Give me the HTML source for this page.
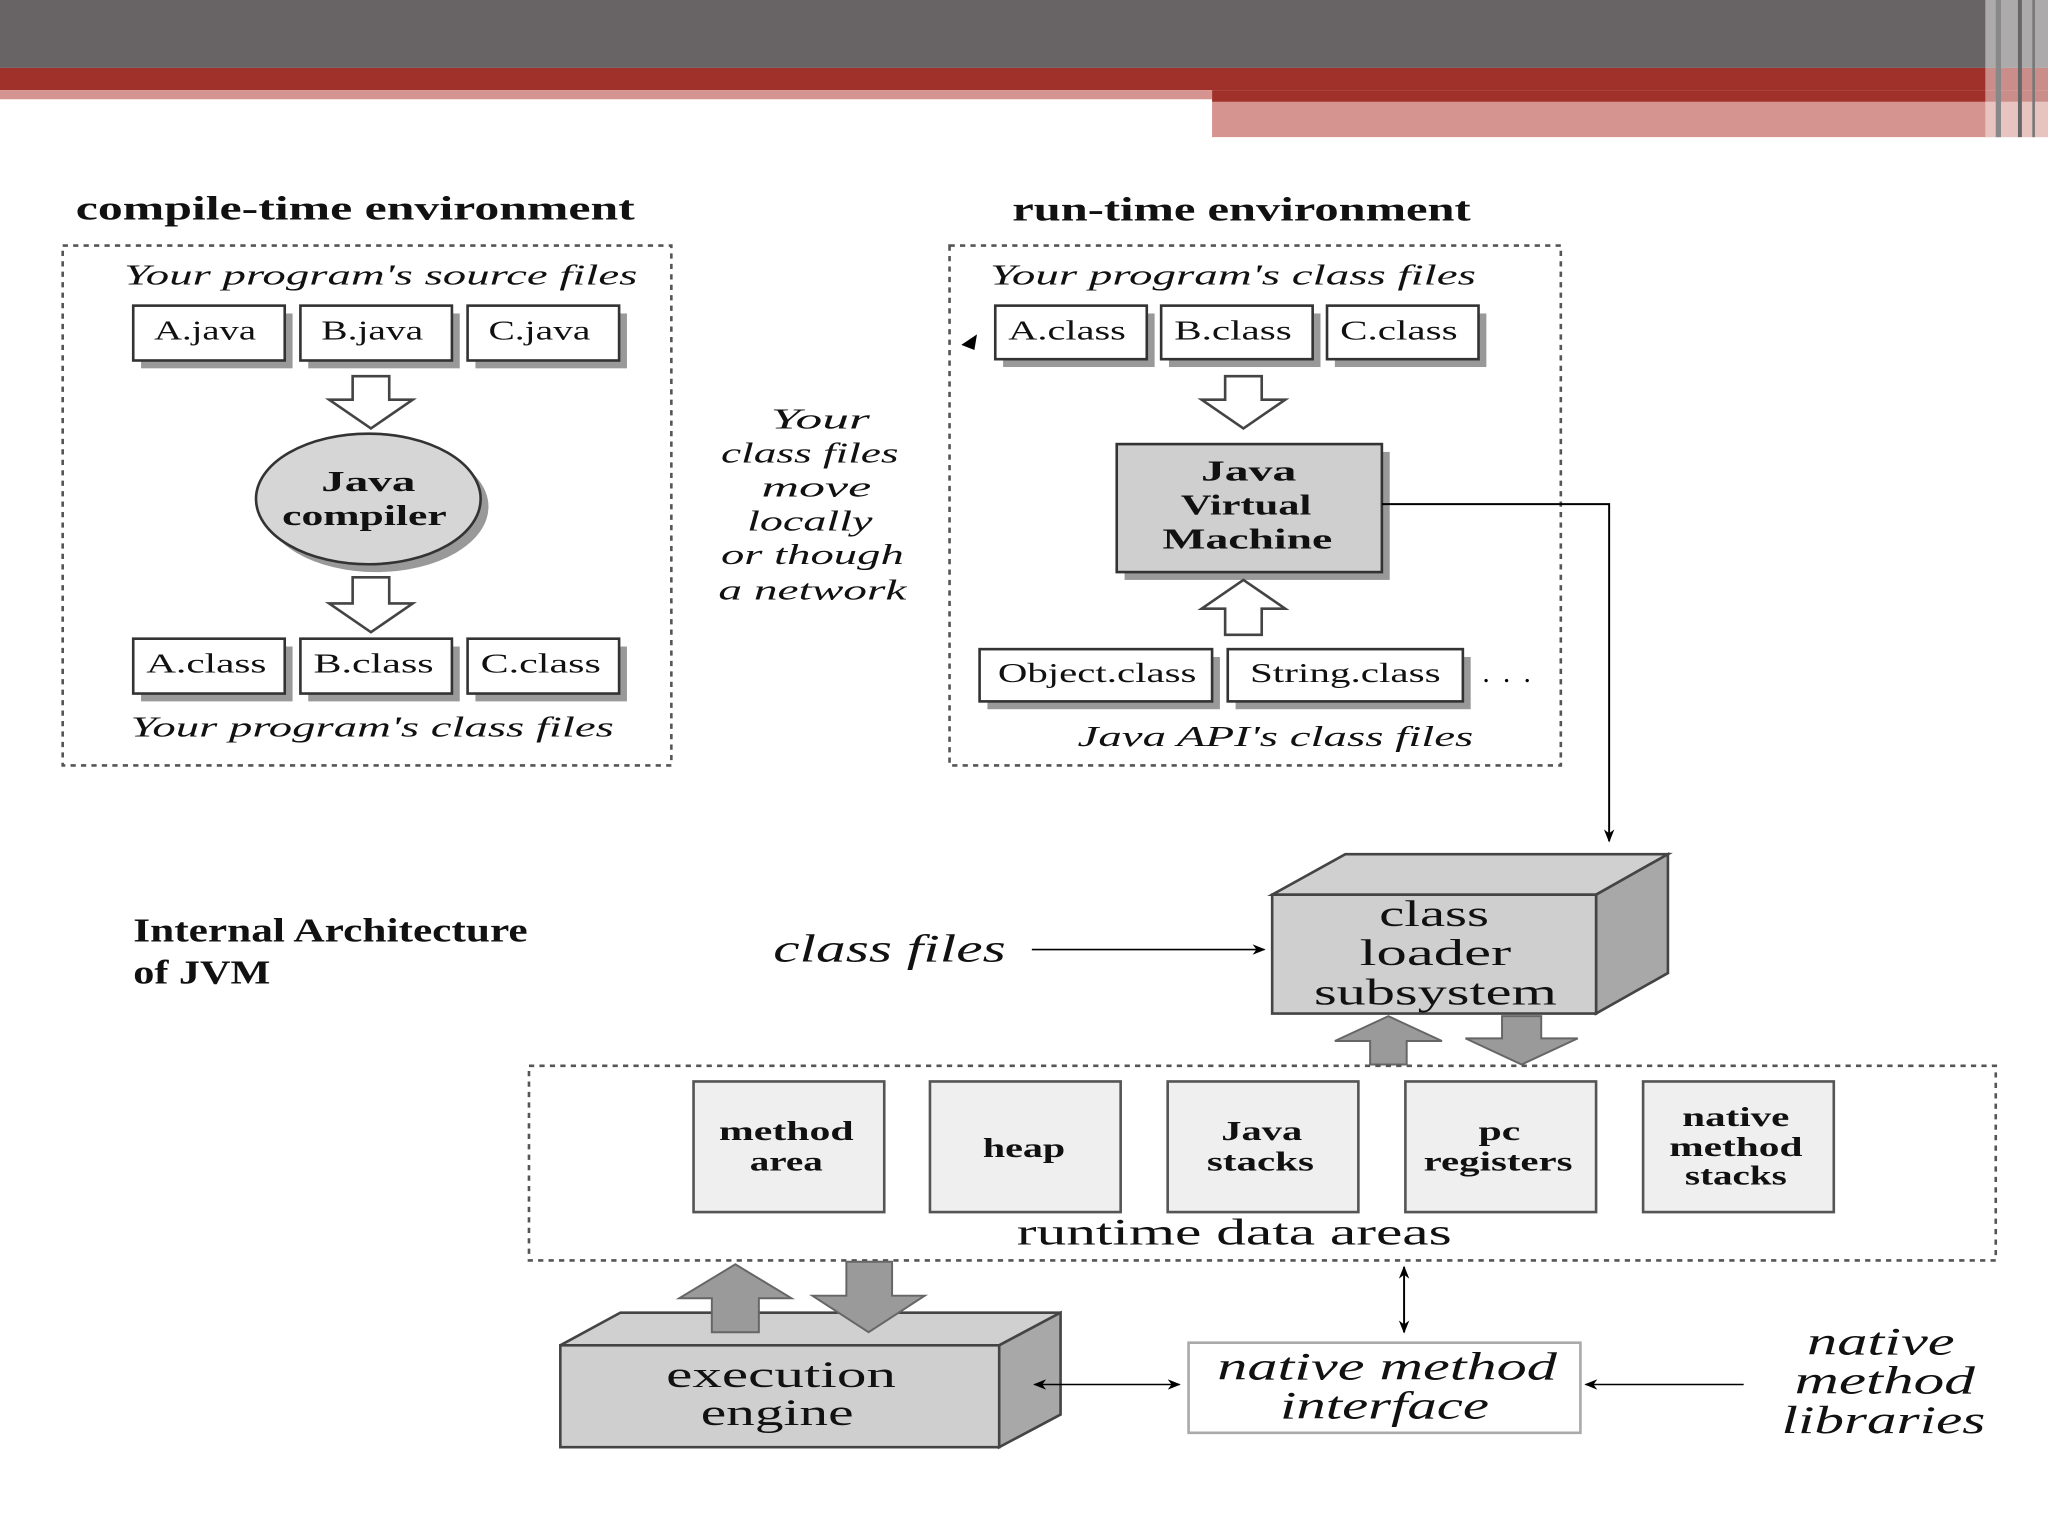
<!DOCTYPE html>
<html><head><meta charset="utf-8"><style>html,body{margin:0;padding:0;background:#fff}svg{display:block}</style></head>
<body>
<svg width="2048" height="1536" viewBox="0 0 1568 1176" xmlns="http://www.w3.org/2000/svg" font-family="'Liberation Serif',serif">
<defs>
<marker id="ah" markerWidth="10" markerHeight="8" refX="9" refY="4" orient="auto" markerUnits="userSpaceOnUse"><path d="M0,0 L10,4 L0,8 L3,4z" fill="#000"/></marker>
<marker id="ahs" markerWidth="10" markerHeight="8" refX="1" refY="4" orient="auto" markerUnits="userSpaceOnUse"><path d="M10,0 L0,4 L10,8 L7,4z" fill="#000"/></marker>
</defs>
<rect x="0" y="0" width="1568" height="52" fill="#686465"/>
<rect x="0" y="52" width="1568" height="17" fill="#a0302a"/>
<rect x="0" y="69" width="928" height="7" fill="#d5948f"/>
<rect x="928" y="69" width="640" height="9" fill="#a0302a"/>
<rect x="928" y="78" width="640" height="27" fill="#d5948f"/>
<rect x="1520" y="0" width="48" height="105" fill="#fff" opacity="0.45"/>
<rect x="1528" y="0" width="4" height="105" fill="#888"/>
<rect x="1545" y="0" width="3" height="105" fill="#666"/>
<rect x="1556" y="0" width="2" height="105" fill="#777"/>

<g font-size="26" font-weight="bold" fill="#111" lengthAdjust="spacingAndGlyphs">
<text x="58" y="168" textLength="428" lengthAdjust="spacingAndGlyphs">compile-time environment</text>
<text x="775" y="169" textLength="351" lengthAdjust="spacingAndGlyphs">run-time environment</text>
</g>
<rect x="48" y="188" width="466" height="398" fill="none" stroke="#555" stroke-width="2" stroke-dasharray="4,4"/>
<rect x="727" y="188" width="468" height="398" fill="none" stroke="#555" stroke-width="2" stroke-dasharray="4,4"/>

<g font-size="22" font-style="italic" fill="#111">
<text x="95" y="218" textLength="393" lengthAdjust="spacingAndGlyphs">Your program's source files</text>
<text x="100" y="564" textLength="370" lengthAdjust="spacingAndGlyphs">Your program's class files</text>
<text x="758" y="218" textLength="372" lengthAdjust="spacingAndGlyphs">Your program's class files</text>
<text x="825" y="571" textLength="303" lengthAdjust="spacingAndGlyphs">Java API's class files</text>
</g>

<g fill="#999">
<rect x="108" y="240" width="116" height="42"/><rect x="236" y="240" width="116" height="42"/><rect x="364" y="240" width="116" height="42"/>
<rect x="108" y="495" width="116" height="42"/><rect x="236" y="495" width="116" height="42"/><rect x="364" y="495" width="116" height="42"/>
<rect x="768" y="240" width="116" height="41"/><rect x="895" y="240" width="116" height="41"/><rect x="1022" y="240" width="116" height="41"/>
<rect x="756" y="503" width="178" height="40"/><rect x="946" y="503" width="180" height="40"/>
<rect x="861" y="346" width="203" height="98"/>
</g>
<g fill="#fff" stroke="#333" stroke-width="2">
<rect x="102" y="234" width="116" height="42"/><rect x="230" y="234" width="116" height="42"/><rect x="358" y="234" width="116" height="42"/>
<rect x="102" y="489" width="116" height="42"/><rect x="230" y="489" width="116" height="42"/><rect x="358" y="489" width="116" height="42"/>
<rect x="762" y="234" width="116" height="41"/><rect x="889" y="234" width="116" height="41"/><rect x="1016" y="234" width="116" height="41"/>
<rect x="750" y="497" width="178" height="40"/><rect x="940" y="497" width="180" height="40"/>
</g>
<rect x="855" y="340" width="203" height="98" fill="#cfcfcf" stroke="#333" stroke-width="2"/>
<g font-size="21" fill="#111" text-anchor="middle">
<text x="157" y="260" textLength="78" lengthAdjust="spacingAndGlyphs">A.java</text><text x="285" y="260" textLength="78" lengthAdjust="spacingAndGlyphs">B.java</text><text x="413" y="260" textLength="78" lengthAdjust="spacingAndGlyphs">C.java</text>
<text x="158" y="515" textLength="92" lengthAdjust="spacingAndGlyphs">A.class</text><text x="286" y="515" textLength="92" lengthAdjust="spacingAndGlyphs">B.class</text><text x="414" y="515" textLength="92" lengthAdjust="spacingAndGlyphs">C.class</text>
<text x="817" y="260" textLength="90" lengthAdjust="spacingAndGlyphs">A.class</text><text x="944" y="260" textLength="90" lengthAdjust="spacingAndGlyphs">B.class</text><text x="1071" y="260" textLength="90" lengthAdjust="spacingAndGlyphs">C.class</text>
<text x="840" y="522" textLength="152" lengthAdjust="spacingAndGlyphs">Object.class</text><text x="1030" y="522" textLength="146" lengthAdjust="spacingAndGlyphs">String.class</text>
</g>
<text x="1135" y="522" font-size="22" textLength="37" lengthAdjust="spacing">. . .</text>

<g fill="#fff" stroke="#444" stroke-width="2">
<path d="M270,288 H298 V306 H316 L284,328 L252,306 H270Z"/>
<path d="M270,442 H298 V462 H316 L284,484 L252,462 H270Z"/>
<path d="M938,288 H966 V306 H984 L952,328 L920,306 H938Z"/>
<path d="M938,486 H966 V466 H984 L952,444 L920,466 H938Z"/>
</g>
<ellipse cx="288" cy="388" rx="86" ry="50" fill="#999"/>
<ellipse cx="282" cy="382" rx="86" ry="50" fill="#d6d6d6" stroke="#333" stroke-width="2"/>
<g font-size="22" font-weight="bold" text-anchor="middle" fill="#111">
<text x="282" y="376" textLength="72" lengthAdjust="spacingAndGlyphs">Java</text><text x="279" y="402" textLength="126" lengthAdjust="spacingAndGlyphs">compiler</text>
<text x="956" y="368" textLength="73" lengthAdjust="spacingAndGlyphs">Java</text><text x="954" y="394" textLength="100" lengthAdjust="spacingAndGlyphs">Virtual</text><text x="955" y="420" textLength="130" lengthAdjust="spacingAndGlyphs">Machine</text>
</g>

<g font-size="22" font-style="italic" text-anchor="middle" fill="#111">
<text x="628" y="328" textLength="76" lengthAdjust="spacingAndGlyphs">Your</text>
<text x="620" y="354" textLength="136" lengthAdjust="spacingAndGlyphs">class files</text>
<text x="625" y="380" textLength="84" lengthAdjust="spacingAndGlyphs">move</text>
<text x="620" y="406" textLength="96" lengthAdjust="spacingAndGlyphs">locally</text>
<text x="622" y="432" textLength="140" lengthAdjust="spacingAndGlyphs">or though</text>
<text x="622" y="459" textLength="144" lengthAdjust="spacingAndGlyphs">a network</text>
</g>
<path d="M748,256 L736,264 L746,268z" fill="#000"/>

<path d="M1058,386 H1232 V644" fill="none" stroke="#000" stroke-width="1.5" marker-end="url(#ah)"/>

<polygon points="974,685 1030,654 1277,654 1222,685" fill="#d0d0d0" stroke="#444" stroke-width="2"/>
<polygon points="1222,685 1277,654 1277,745 1222,776" fill="#a8a8a8" stroke="#444" stroke-width="2"/>
<rect x="974" y="685" width="248" height="91" fill="#cfcfcf" stroke="#444" stroke-width="2"/>
<g font-size="28" text-anchor="middle" fill="#111">
<text x="1098" y="709" textLength="84" lengthAdjust="spacingAndGlyphs">class</text><text x="1099" y="739" textLength="116" lengthAdjust="spacingAndGlyphs">loader</text><text x="1099" y="769" textLength="186" lengthAdjust="spacingAndGlyphs">subsystem</text>
</g>
<g fill="#9a9a9a" stroke="#666" stroke-width="1.5">
<path d="M1049,815 V797 H1022 L1063,778 L1104,797 H1077 V815Z"/>
<path d="M1150,778 V795 H1122 L1165,815 L1208,795 H1180 V778Z"/>
</g>
<text x="592" y="736" font-size="30" font-style="italic" fill="#111" textLength="178" lengthAdjust="spacingAndGlyphs">class files</text>
<line x1="790" y1="727" x2="968" y2="727" stroke="#000" stroke-width="1.2" marker-end="url(#ah)"/>

<g font-size="26" font-weight="bold" fill="#111">
<text x="102" y="721" textLength="302" lengthAdjust="spacingAndGlyphs">Internal Architecture</text><text x="102" y="753" textLength="105" lengthAdjust="spacingAndGlyphs">of JVM</text>
</g>

<rect x="405" y="816" width="1123" height="149" fill="none" stroke="#555" stroke-width="2" stroke-dasharray="4,4"/>
<g fill="#efefef" stroke="#555" stroke-width="2">
<rect x="531" y="828" width="146" height="100"/><rect x="712" y="828" width="146" height="100"/>
<rect x="894" y="828" width="146" height="100"/><rect x="1076" y="828" width="146" height="100"/>
<rect x="1258" y="828" width="146" height="100"/>
</g>
<g font-size="21" font-weight="bold" text-anchor="middle" fill="#111">
<text x="602" y="873" textLength="103" lengthAdjust="spacingAndGlyphs">method</text><text x="602" y="896" textLength="56" lengthAdjust="spacingAndGlyphs">area</text>
<text x="784" y="886" textLength="63" lengthAdjust="spacingAndGlyphs">heap</text>
<text x="966" y="873" textLength="62" lengthAdjust="spacingAndGlyphs">Java</text><text x="965" y="896" textLength="82" lengthAdjust="spacingAndGlyphs">stacks</text>
<text x="1148" y="873" textLength="32" lengthAdjust="spacingAndGlyphs">pc</text><text x="1147" y="896" textLength="114" lengthAdjust="spacingAndGlyphs">registers</text>
<text x="1329" y="862" textLength="82" lengthAdjust="spacingAndGlyphs">native</text><text x="1329" y="885" textLength="102" lengthAdjust="spacingAndGlyphs">method</text><text x="1329" y="907" textLength="78" lengthAdjust="spacingAndGlyphs">stacks</text>
</g>
<text x="945" y="953" font-size="28" text-anchor="middle" fill="#111" textLength="333" lengthAdjust="spacingAndGlyphs">runtime data areas</text>

<line x1="1075" y1="970" x2="1075" y2="1020" stroke="#000" stroke-width="1.5" marker-end="url(#ah)" marker-start="url(#ahs)"/>

<polygon points="429,1030 475,1005 812,1005 765,1030" fill="#d0d0d0" stroke="#444" stroke-width="2"/>
<polygon points="765,1030 812,1005 812,1083 765,1108" fill="#a8a8a8" stroke="#444" stroke-width="2"/>
<rect x="429" y="1030" width="336" height="78" fill="#cfcfcf" stroke="#444" stroke-width="2"/>
<g font-size="28" text-anchor="middle" fill="#111">
<text x="598" y="1062" textLength="176" lengthAdjust="spacingAndGlyphs">execution</text><text x="595" y="1091" textLength="117" lengthAdjust="spacingAndGlyphs">engine</text>
</g>
<g fill="#9a9a9a" stroke="#666" stroke-width="1.5">
<path d="M545,1020 V994 H520 L563,968 L606,994 H581 V1020Z"/>
<path d="M648,966 V992 H622 L665,1020 L708,992 H683 V966Z"/>
</g>
<line x1="792" y1="1060" x2="903" y2="1060" stroke="#000" stroke-width="1.2" marker-end="url(#ah)" marker-start="url(#ahs)"/>
<rect x="910" y="1028" width="300" height="69" fill="#fff" stroke="#aaa" stroke-width="2"/>
<g font-size="30" font-style="italic" text-anchor="middle" fill="#111">
<text x="1062" y="1056" textLength="260" lengthAdjust="spacingAndGlyphs">native method</text><text x="1060" y="1086" textLength="160" lengthAdjust="spacingAndGlyphs">interface</text>
<text x="1440" y="1037" textLength="113" lengthAdjust="spacingAndGlyphs">native</text><text x="1443" y="1067" textLength="138" lengthAdjust="spacingAndGlyphs">method</text><text x="1442" y="1097" textLength="156" lengthAdjust="spacingAndGlyphs">libraries</text>
</g>
<line x1="1335" y1="1060" x2="1214" y2="1060" stroke="#000" stroke-width="1.2" marker-end="url(#ah)"/>
</svg>
</body></html>
